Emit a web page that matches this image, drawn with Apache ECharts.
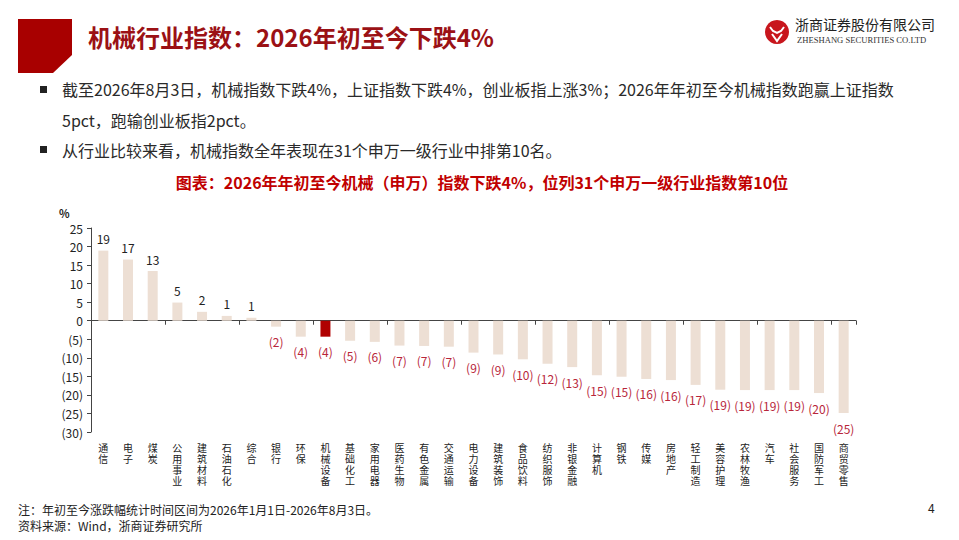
<!DOCTYPE html>
<html><head><meta charset="utf-8">
<script src="https://cdn.jsdelivr.net/npm/echarts@6/dist/echarts.min.js"></script>
<style>html,body{margin:0;padding:0;background:#fff}#c{width:959px;height:540px}</style>
</head><body><div id="c"></div>
<script>
const categories = ['通信','电子','煤炭','公用事业','建筑材料','石油石化','综合','银行','环保','机械设备','基础化工','家用电器','医药生物','有色金属','交通运输','电力设备','建筑装饰','食品饮料','纺织服饰','非银金融','计算机','钢铁','传媒','房地产','轻工制造','美容护理','农林牧渔','汽车','社会服务','国防军工','商贸零售'];
const values = [18.9,16.5,13.4,4.9,2.4,1.3,0.8,-1.6,-4.3,-4.3,-5.4,-5.7,-6.7,-6.8,-7.0,-8.6,-9.1,-10.4,-11.6,-12.5,-14.7,-15.1,-15.7,-16.0,-17.3,-18.6,-18.7,-18.7,-18.7,-19.5,-24.9];
const highlight = '机械设备';
const yTicks = {min:-30, max:25, interval:5};

const title = '机械行业指数：2026年初至今下跌4%';
const bullet1a = '截至2026年8月3日，机械指数下跌4%，上证指数下跌4%，创业板指上涨3%；2026年年初至今机械指数跑赢上证指数';
const bullet1b = '5pct，跑输创业板指2pct。';
const bullet2 = '从行业比较来看，机械指数全年表现在31个申万一级行业中排第10名。';
const chartTitle = '图表：2026年年初至今机械（申万）指数下跌4%，位列31个申万一级行业指数第10位';
const note1 = '注：年初至今涨跌幅统计时间区间为2026年1月1日-2026年8月3日。';
const note2 = '资料来源：Wind，浙商证券研究所';

const FONT = '"Noto Sans CJK SC","Noto Sans",sans-serif';
const fmt = v => v < 0 ? '(' + Math.round(-v) + ')' : String(Math.round(v));

const chart = echarts.init(document.getElementById('c'), null, {renderer:'svg'});
const data = values.map((v,i)=>({
  value: v,
  itemStyle: {color: categories[i]===highlight ? '#b00000' : '#eddfd4'},
  label: {position: v<0 ? 'bottom':'top', color: v<0 ? '#b8263a' : '#222', distance: v<0 ? 9 : 6}
}));

function txt(x,y,text,font,fill,extra){
  return {type:'text',x:x,y:y,style:Object.assign({text:text,font:font,fill:fill,verticalAlign:'middle'},extra||{})};
}

chart.setOption({
  animation:false,
  textStyle:{fontFamily:FONT},
  grid:{left:91,right:103,top:228,bottom:108,containLabel:false},
  xAxis:[{
    type:'category', data:categories,
    axisLine:{onZero:true,lineStyle:{color:'#444',width:1}},
    axisTick:{show:true,length:4,lineStyle:{color:'#444'}},
    axisLabel:{show:false}
  },{
    type:'category', data:categories, position:'bottom',
    axisLine:{show:false}, axisTick:{show:false},
    axisLabel:{show:true,interval:0,margin:10,fontSize:10,lineHeight:11,color:'#222',verticalAlign:'top',
      formatter:s=>s.split('').join('\n')}
  }],
  yAxis:{
    type:'value', min:yTicks.min, max:yTicks.max, interval:yTicks.interval,
    splitLine:{show:false},
    axisLine:{show:true,lineStyle:{color:'#444'}},
    axisTick:{show:true,length:4,lineStyle:{color:'#444'}},
    axisLabel:{fontSize:12,color:'#222',margin:8,formatter:v=>v<0?'('+(-v)+')':String(v)}
  },
  series:[{
    type:'bar', data:data, barWidth:10, xAxisIndex:0,
    label:{show:true,fontSize:12,formatter:p=>fmt(p.value)}
  }],
  graphic:[
    {type:'polygon',shape:{points:[[18,19],[72,19],[72,55],[53,73],[18,73]]},style:{fill:'#a80000'}},
    txt(88,36,title,'bold 24px '+FONT,'#9b1115'),
    {type:'circle',shape:{cx:777,cy:32,r:12},style:{fill:'#c8161d'}},
    {type:'polyline',shape:{points:[[770,27],[773,31],[777,33],[781,31],[784,27]]},style:{stroke:'#fff',lineWidth:2,fill:null}},
    {type:'polyline',shape:{points:[[772,34],[777,41],[782,34]]},style:{stroke:'#fff',lineWidth:2,fill:null}},
    txt(795,24,'浙商证券股份有限公司','14px '+FONT,'#222'),
    txt(797,40,'ZHESHANG SECURITIES CO.LTD','8.6px "Liberation Serif",serif','#333'),
    {type:'rect',shape:{x:40,y:86,width:7,height:7},style:{fill:'#222'}},
    txt(62,89,bullet1a,'16px '+FONT,'#2a2a2a'),
    txt(62,120,bullet1b,'16px '+FONT,'#2a2a2a'),
    {type:'rect',shape:{x:40,y:146,width:7,height:7},style:{fill:'#222'}},
    txt(62,150,bullet2,'16px '+FONT,'#2a2a2a'),
    txt(482,182,chartTitle,'bold 16px '+FONT,'#c00000',{align:'center'}),
    txt(59,213,'%','bold 11px '+FONT,'#222'),
    txt(18,509,note1,'12px '+FONT,'#222'),
    txt(18,525,note2,'12px '+FONT,'#222'),
    txt(928,507,'4','12px '+FONT,'#222')
  ]
});
</script></body></html>
